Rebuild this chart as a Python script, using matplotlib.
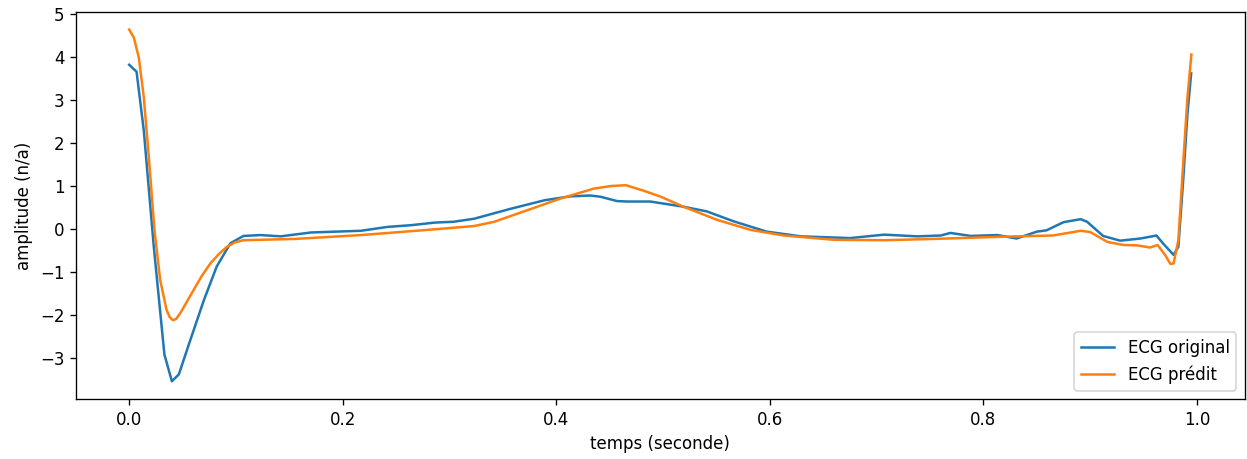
import numpy as np
import matplotlib
matplotlib.use('Agg')
import matplotlib.pyplot as plt

# ECG original
t_original = [0.0, 0.0069, 0.0137, 0.023, 0.033, 0.040, 0.0465, 0.0574, 0.070, 0.082,
              0.0948, 0.107, 0.123, 0.142, 0.170, 0.217, 0.242, 0.264, 0.286, 0.304,
              0.323, 0.357, 0.389, 0.413, 0.432, 0.4415, 0.457, 0.4665, 0.488, 0.519,
              0.541, 0.566, 0.597, 0.629, 0.675, 0.707, 0.738, 0.760, 0.769, 0.788,
              0.813, 0.831, 0.850, 0.859, 0.875, 0.891, 0.897, 0.912, 0.928, 0.947,
              0.962, 0.968, 0.978, 0.9825, 0.987, 0.991, 0.9945]
ecg_original = [3.83, 3.67, 2.30, -0.39, -2.91, -3.53, -3.37, -2.56, -1.64, -0.86,
                -0.32, -0.15, -0.13, -0.16, -0.07, -0.03, 0.06, 0.10, 0.16, 0.18,
                0.25, 0.48, 0.68, 0.77, 0.79, 0.76, 0.66, 0.65, 0.65, 0.53,
                0.42, 0.19, -0.05, -0.16, -0.20, -0.12, -0.16, -0.14, -0.08, -0.15,
                -0.13, -0.21, -0.05, -0.02, 0.17, 0.24, 0.18, -0.15, -0.26, -0.21,
                -0.14, -0.32, -0.59, -0.40, 1.14, 2.69, 3.63]

# ECG prédit
t_predit = [0.0, 0.0044, 0.009, 0.0137, 0.0184, 0.0237, 0.029, 0.035, 0.038, 0.041,
            0.044, 0.048, 0.054, 0.0605, 0.068, 0.076, 0.084, 0.0917, 0.099, 0.107,
            0.123, 0.155, 0.217, 0.279, 0.323, 0.342, 0.373, 0.404, 0.435, 0.451,
            0.465, 0.482, 0.498, 0.519, 0.551, 0.582, 0.613, 0.660, 0.707, 0.753,
            0.816, 0.831, 0.865, 0.891, 0.900, 0.916, 0.931, 0.944, 0.956, 0.963,
            0.970, 0.975, 0.978, 0.9825, 0.987, 0.991, 0.9947]
ecg_predit = [4.65, 4.46, 4.00, 3.07, 1.68, -0.02, -1.17, -1.87, -2.04, -2.11,
              -2.08, -1.94, -1.68, -1.40, -1.08, -0.79, -0.57, -0.40, -0.30, -0.25,
              -0.24, -0.22, -0.13, -0.01, 0.08, 0.18, 0.45, 0.72, 0.95, 1.01,
              1.03, 0.90, 0.76, 0.53, 0.22, -0.01, -0.14, -0.24, -0.25, -0.22,
              -0.17, -0.16, -0.14, -0.03, -0.06, -0.29, -0.36, -0.37, -0.42, -0.36,
              -0.59, -0.80, -0.79, -0.25, 1.53, 3.07, 4.07]

fig, ax = plt.subplots(figsize=(1247 / 120, 459 / 120), dpi=120)
fig.subplots_adjust(left=0.061, right=0.998, top=0.974, bottom=0.131)

ax.plot(t_original, ecg_original, label='ECG original')
ax.plot(t_predit, ecg_predit, label='ECG prédit')

ax.set_xlabel('temps (seconde)')
ax.set_ylabel('amplitude (n/a)')
ax.legend(loc='lower right')

fig.savefig('out.png', dpi=120)
